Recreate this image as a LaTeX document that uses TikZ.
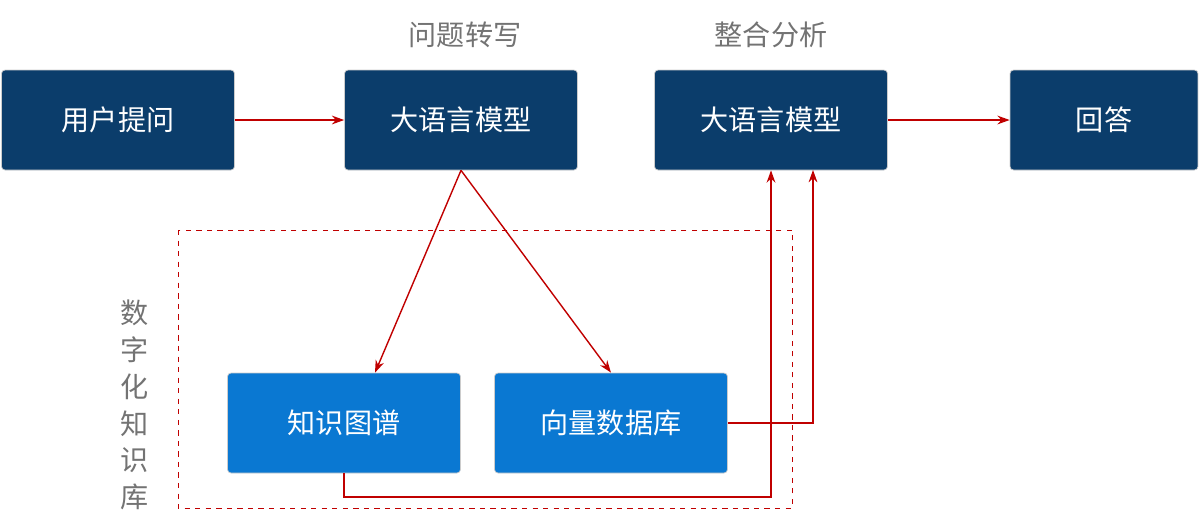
\documentclass[tikz,border=0pt]{standalone}
\usepackage{fontspec}
\setmainfont{Noto Sans CJK SC}
\usetikzlibrary{arrows.meta}
\definecolor{navy}{HTML}{0B3D6B}
\definecolor{bblue}{HTML}{0A78D2}
\definecolor{rred}{HTML}{C00000}
\begin{document}
\begin{tikzpicture}[x=0.02cm,y=-0.02cm,
 box/.style={draw=gray!40,rounded corners=2pt,text=white,font=\fontsize{16}{18}\selectfont,minimum width=4.66cm,minimum height=2cm,inner sep=0pt},
 dk/.style={box,fill=navy},
 lt/.style={box,fill=bblue},
 lbl/.style={text=gray!90!black,font=\fontsize{16}{18}\selectfont},
 arr/.style={draw=rred,line width=0.8pt,-{Stealth[length=7pt,width=5pt]}}]
\useasboundingbox (0,0) rectangle (1200,512);
\node[dk] (q) at (118,120) {用户提问};
\node[dk] (m1) at (461,120) {大语言模型};
\node[dk] (m2) at (771,120) {大语言模型};
\node[dk,minimum width=3.76cm] (a) at (1104,120) {回答};
\node[lt] (kg) at (344,423) {知识图谱};
\node[lt] (vd) at (611,423) {向量数据库};
\node[lbl] (t1) at (465,35) {问题转写};
\node[lbl] (t2) at (771,35) {整合分析};
\node[lbl,align=center,font=\fontsize{16}{21}\selectfont] (kb) at (135,405) {数\\字\\化\\知\\识\\库};
\draw[rred,dashed,line width=0.5pt] (178,230) rectangle (792,508);
\draw[arr] (q) -- (m1);
\draw[arr] (m2) -- (a);
\draw[arr] (m1.south) -- (kg.north -| 375,0);
\draw[arr] (m1.south) -- (vd.north);
\draw[arr] (kg.south) |- (771,497) -- (m2.south);
\draw[arr] (vd.east) -| (813,170);
\end{tikzpicture}
\end{document}
